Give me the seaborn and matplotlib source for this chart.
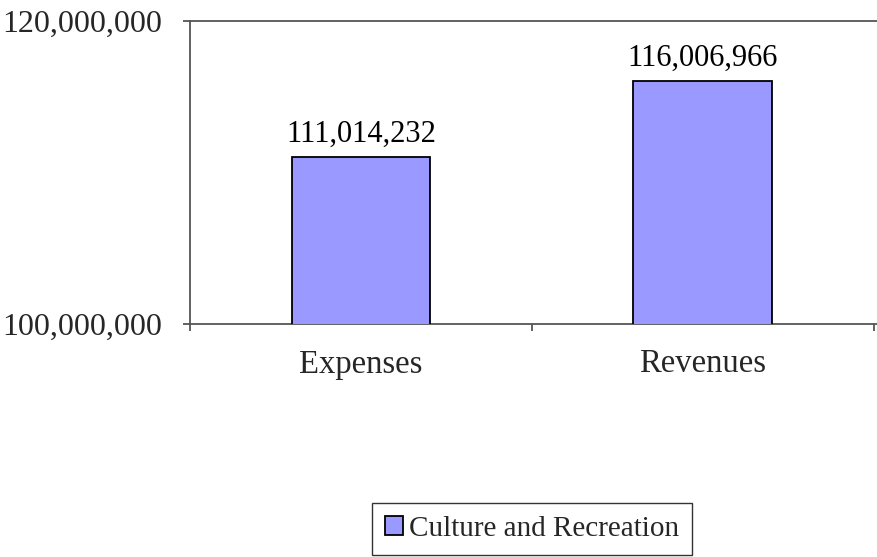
import matplotlib
matplotlib.use("Agg")
import matplotlib.pyplot as plt
import seaborn as sns
import pandas as pd
from matplotlib.ticker import FuncFormatter, FixedLocator

categories = ["Expenses", "Revenues"]
values = [111014232, 116006966]
series_name = "Culture and Recreation"
y_ticks = [100000000, 120000000]

sns.set_theme(style="white")
plt.rcParams['font.family'] = ['Liberation Serif', 'DejaVu Serif']

df = pd.DataFrame({"Category": categories, "Value": values, "Series": series_name})

fig = plt.figure(figsize=(8.77, 5.57), dpi=100)
ax = fig.add_axes([190/877, 1-324/557, 1-190/877, (324-21)/557])

sns.barplot(data=df, x="Category", y="Value", hue="Series", palette=["#9999ff"],
            edgecolor="black", linewidth=1.3, width=0.405, saturation=1, ax=ax, zorder=3)

ax.set_ylim(y_ticks[0], y_ticks[1])
ax.set_xlim(-0.5, 1.51)
ax.yaxis.set_major_locator(FixedLocator(y_ticks))
ax.yaxis.set_major_formatter(FuncFormatter(lambda v, p: f"{int(v):,}"))
ax.set_xticks([0, 1])
ax.set_xticklabels(categories)
ax.xaxis.set_minor_locator(FixedLocator([-0.5, 0.5, 1.5]))
ax.tick_params(axis='x', which='major', length=0, pad=18, labelsize=23.5)
ax.tick_params(axis='x', which='minor', length=5, width=1.3, color='#555555', direction='out', bottom=True)
ax.tick_params(axis='y', length=5, width=1.3, color='#555555', direction='out', left=True, labelsize=23, pad=15)
ax.set_xlabel("")
ax.set_ylabel("")

for s in ["right"]:
    ax.spines[s].set_visible(False)
for s in ["left", "top", "bottom"]:
    ax.spines[s].set_color("#555555")
    ax.spines[s].set_linewidth(1.3)

for i, v in enumerate(values):
    ax.text(i, v + 0.55e6, f"{v:,}", ha="center", va="bottom", fontsize=22, color="black")

leg = ax.legend(loc="center", bbox_to_anchor=(532/877, 1-529/557), bbox_transform=fig.transFigure,
                frameon=True, fancybox=False, edgecolor="black", fontsize=21,
                handlelength=0.6, handleheight=0.6, handletextpad=0.2, borderpad=0.45)
leg.get_frame().set_linewidth(1.0)
for h in leg.legend_handles:
    h.set_edgecolor("black")

fig.savefig("out.png", dpi=100)
